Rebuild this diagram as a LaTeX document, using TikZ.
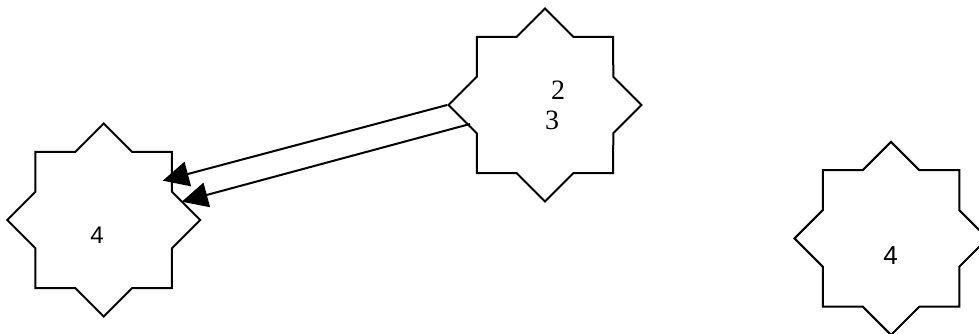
\documentclass[tikz,border=0pt]{standalone}
\usepackage{fontspec}
\setmainfont{Liberation Serif}
\newfontfamily\arialfont{Liberation Sans}
\usetikzlibrary{shapes.geometric,arrows.meta,calc}
\begin{document}
\begin{tikzpicture}[x=1pt,y=-1pt,
  starshape/.style={draw=black, line width=2pt, star, star points=8,
    star point ratio=1.3066, minimum size=193pt, inner sep=0pt, fill=white},
  seriflabel/.style={inner sep=0pt, font=\fontsize{28}{28}\selectfont},
  sanslabel/.style={inner sep=0pt, font=\arialfont\fontsize{24}{24}\selectfont},
  link/.style={draw=black, line width=2pt,
    -{Triangle[length=26pt,width=25pt]}}
]
\useasboundingbox (0,0) rectangle (979,334);
\fill[white] (0,0) rectangle (979,334);

\node[starshape] (s1) at (103.7,220) {};
\node[starshape] (s2) at (545,105) {};
\node[starshape] (s3) at (891,238.4) {};

\node[sanslabel] (l1) at (97,235) {4};
\node[seriflabel] (l2a) at (558,90) {2};
\node[seriflabel] (l2b) at (552,120.3) {3};
\node[sanslabel, font=\arialfont\fontsize{26}{26}\selectfont] (l3) at (890.5,256) {4};

\coordinate (t1) at ($(s1.center)+(59,-39.3)$);
\coordinate (t2) at ($(s1.center)+(78,-18.3)$);
\coordinate (f2) at ($(s2.center)+(-75,19)$);

\draw[link] (s2.180) -- (t1);
\draw[link] (f2) -- (t2);
\end{tikzpicture}
\end{document}
